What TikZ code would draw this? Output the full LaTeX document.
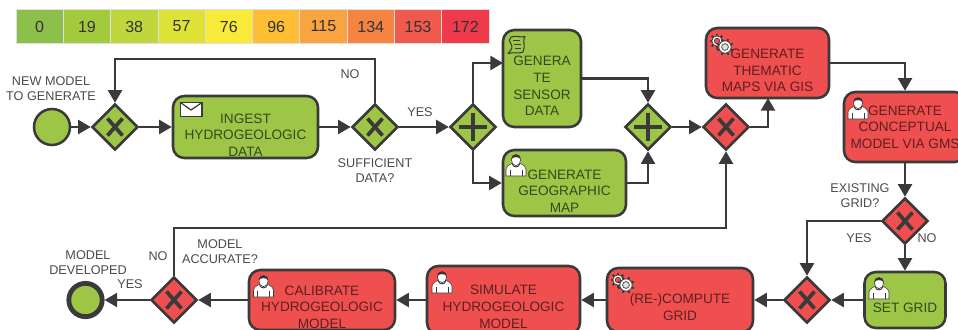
\documentclass[tikz,border=0pt]{standalone}
\usepackage{fontspec}
\setmainfont{Liberation Sans}
\usetikzlibrary{shapes.geometric,arrows.meta}
\definecolor{gfill}{HTML}{9DC646}
\definecolor{rfill}{HTML}{F04F4F}
\definecolor{ink}{HTML}{3A3A3A}
\definecolor{gtext}{HTML}{34491C}
\definecolor{rtext}{HTML}{5E1F22}
\definecolor{ltext}{HTML}{4A4A4A}
\definecolor{c0}{HTML}{8CC04A}
\definecolor{c1}{HTML}{A2CA3C}
\definecolor{c2}{HTML}{BFD63D}
\definecolor{c3}{HTML}{DEE237}
\definecolor{c4}{HTML}{F9EA3A}
\definecolor{c5}{HTML}{FDBE35}
\definecolor{c6}{HTML}{F9A440}
\definecolor{c7}{HTML}{F58443}
\definecolor{c8}{HTML}{F0594B}
\definecolor{c9}{HTML}{EE3A4B}
\newcommand\tx[2]{\raisebox{\dimexpr#1-3.7pt\relax}[0pt][0pt]{\begin{tabular}{@{}c@{}}#2\end{tabular}}}
\newcommand\person[2]{%
  \begin{scope}[shift={(#1,#2)}]
    \fill[white,draw=ink,line width=.4pt] (-10,22) -- (-10,15) .. controls (-9,11) and (-5,10) .. (-3,9) -- (3,9) .. controls (5,10) and (9,11) .. (10,15) -- (10,22) -- cycle;
    \draw[ink,line width=.4pt] (-6,22) -- (-6,16) (6,22) -- (6,16);
    \draw[ink,line width=.7pt] (-4,9.5) .. controls (-3,14) and (3,14) .. (4,9.5);
    \fill[white,draw=ink,line width=.4pt] (0,6) ellipse (4.6 and 5.6);
    \fill[ink!90!black] (-4.8,5) .. controls (-5,-1) and (5,-1) .. (4.8,5) .. controls (2,2.5) and (-2,2.5) .. (-4.8,5) -- cycle;
  \end{scope}}
\newcommand\gearsmall[2]{%
  \foreach \a in {0,45,...,315}{\draw[ink,line width=1.4pt] (#1,#2) ++(\a:5) -- ++(\a:2.5);}
  \filldraw[fill=white,draw=ink,line width=.6pt] (#1,#2) circle (5.2);
  \filldraw[fill=rfill,draw=ink,line width=.5pt] (#1,#2) circle (2.8);}
\newcommand\gearbig[2]{%
  \foreach \a in {22,67,...,337}{\draw[ink,line width=1.4pt] (#1,#2) ++(\a:6) -- ++(\a:2.5);}
  \filldraw[fill=white,draw=ink,line width=.6pt] (#1,#2) circle (6.2);
  \filldraw[fill=black!12,draw=ink,line width=.5pt] (#1,#2) circle (3.4);}
\tikzset{
  size/.style 2 args={minimum width=#1*0.75pt,minimum height=#2*0.75pt},
  taskg/.style={draw=ink,line width=1.9pt,rounded corners=8.5pt,fill=gfill,inner sep=0pt,text=gtext,font=\fontsize{10.2}{12.5}\selectfont},
  taskr/.style={taskg,fill=rfill,text=rtext},
  gate/.style={diamond,draw=ink,line width=1.9pt,inner sep=0pt,minimum width=34.5pt,minimum height=34.5pt},
  markx/.style={path picture={\draw[ink,line width=2.8pt] ([shift={(-7.5,-8.5)}]path picture bounding box.center) -- ([shift={(7.5,8.5)}]path picture bounding box.center) ([shift={(7.5,-8.5)}]path picture bounding box.center) -- ([shift={(-7.5,8.5)}]path picture bounding box.center);}},
  markp/.style={path picture={\draw[ink,line width=3.2pt] ([shift={(-14,0)}]path picture bounding box.center) -- ([shift={(14,0)}]path picture bounding box.center) ([shift={(0,-14)}]path picture bounding box.center) -- ([shift={(0,14)}]path picture bounding box.center);}},
  flow/.style={draw=ink,line width=1.9pt,-{Triangle[length=9.5pt,width=10.5pt]}},
  lbl/.style={text=ltext,align=center,inner sep=0pt,font=\fontsize{9.5}{11.4}\selectfont},
  cell/.style={draw=white!75!gray,line width=.5pt,inner sep=0pt,minimum width=35.5pt,minimum height=25.5pt,text=black!80,font=\fontsize{12}{14}\selectfont},
}
\begin{document}
\begin{tikzpicture}[x=0.75pt,y=-0.75pt]
\clip (0,0) rectangle (958,329);
% colour scale
\foreach \i/\v in {0/0,1/19,2/38,3/57,4/76,5/96,6/115,7/134,8/153,9/172}{
  \node[cell,fill=c\i] (bar\i) at ({39.65+47.3*\i},26.5) {\v};
}
% events and gateways
\node[circle,draw=ink,line width=1.9pt,fill=gfill,inner sep=0pt,minimum size=27pt] (start) at (52,127) {};
\node[gate,fill=gfill,markx] (d1) at (115,127) {};
\node[gate,fill=gfill,markx] (d2) at (375,127) {};
\node[gate,fill=gfill,markp] (plus1) at (473,127) {};
\node[gate,fill=gfill,markp] (plus2) at (648,127) {};
\node[gate,fill=rfill,markx] (d3) at (726,127) {};
\node[gate,fill=rfill,markx] (d4) at (905,221) {};
\node[gate,fill=rfill,markx] (d5) at (807,300) {};
\node[gate,fill=rfill,markx] (d6) at (174,300) {};
\node[circle,draw=ink,line width=3.6pt,fill=gfill,inner sep=0pt,minimum size=25pt] (end) at (85.5,300) {};
% tasks
\node[taskg,size={145}{62}] (ingest) at (245.5,127) {\tx{-6pt}{INGEST\\HYDROGEOLOGIC\\DATA}};
\node[taskg,size={78}{97}] (sensor) at (542,78.5) {\tx{-5.6pt}{GENERA\\TE\\SENSOR\\DATA}};
\node[taskg,size={123}{66}] (geo) at (564.5,183) {\tx{-6pt}{GENERATE\\GEOGRAPHIC\\MAP}};
\node[taskr,size={123}{70}] (them) at (767.5,63) {\tx{-5.5pt}{GENERATE\\THEMATIC\\MAPS VIA GIS}};
\node[taskr,size={122}{70}] (conc) at (905,127) {\tx{0pt}{GENERATE\\CONCEPTUAL\\MODEL VIA GMS}};
\node[taskg,size={81}{56}] (setg) at (905,300) {\tx{-6pt}{SET GRID}};
\node[taskr,size={146}{64}] (recomp) at (680,300) {\tx{-5.5pt}{(RE-)COMPUTE\\GRID}};
\node[taskr,size={153}{68}] (sim) at (503.5,300) {\tx{-5pt}{SIMULATE\\HYDROGEOLOGIC\\MODEL}};
\node[taskr,size={146}{60}] (calib) at (322,300) {\tx{-5.2pt}{CALIBRATE\\HYDROGEOLOGIC\\MODEL}};
% connector waypoints
\coordinate (loop) at (245,59);
\coordinate (sensorIn) at (503,63);
\coordinate (themIn) at (768,98);
\coordinate (back) at (450,228);
% connectors
\draw[flow] (start) -- (d1);
\draw[flow] (d1) -- (ingest);
\draw[flow] (ingest) -- (d2);
\draw[flow] (d2) -- (plus1);
\draw[flow] (d2.north) |- (loop) -| (d1.north);
\draw[flow] (plus1.north) |- (sensorIn);
\draw[flow] (plus1.south) |- (geo.west);
\draw[flow] (sensor.east) -| (plus2.north);
\draw[flow] (geo.east) -| (plus2.south);
\draw[flow] (plus2) -- (d3);
\draw[flow] (d3.east) -| (themIn);
\draw[flow] (them.east) -| (conc.north);
\draw[flow] (conc.south) -- (d4.north);
\draw[flow] (d4.south) -- (setg.north);
\draw[flow] (d4.west) -| (d5.north);
\draw[flow] (setg.west) -- (d5.east);
\draw[flow] (d5.west) -- (recomp.east);
\draw[flow] (recomp.west) -- (sim.east);
\draw[flow] (sim.west) -- (calib.east);
\draw[flow] (calib.west) -- (d6.east);
\draw[flow] (d6.west) -- (end.east);
\draw[flow] (d6.north) |- (back) -| (d3.south);
% icons
\draw[fill=white,draw=ink,line width=.9pt] (180.5,102.5) rectangle (202,116.5);
\draw[ink,line width=.9pt] (180.5,102.5) -- (191,110) -- (202,102.5);
\draw[ink,line width=.8pt,line join=round] (511,37) .. controls (516,35) and (520,38) .. (525,36.5) .. controls (522,40) and (526,46) .. (523,52) .. controls (519,54) and (513,52) .. (508,53.5) .. controls (512,49) and (513,47) .. (511,44) .. controls (509,41) and (509,39) .. (511,37) -- cycle;
\draw[ink,line width=.6pt] (513,40) -- (520,40) (514,44) -- (521,44) (515,48) -- (521,48);
\person{263.5}{275}
\person{442}{271}
\person{516}{154}
\person{858}{97}
\person{879}{277}
\gearsmall{717}{41}\gearbig{725}{47}
\gearsmall{618}{280}\gearbig{626}{285}
% labels
\node[lbl] (l1) at (51,88.5) {NEW MODEL\\TO GENERATE};
\node[lbl] (l2) at (350,74) {NO};
\node[lbl] (l3) at (420,112) {YES};
\node[lbl] (l4) at (375,170.5) {SUFFICIENT\\DATA?};
\node[lbl] (l5) at (88,262.5) {MODEL\\DEVELOPED};
\node[lbl] (l6) at (130,284.5) {YES};
\node[lbl] (l7) at (158,256) {NO};
\node[lbl] (l8) at (220,251.5) {MODEL\\ACCURATE?};
\node[lbl] (l9) at (860,196) {EXISTING\\GRID?};
\node[lbl] (l10) at (859,238) {YES};
\node[lbl] (l11) at (927,238) {NO};
\end{tikzpicture}
\end{document}
